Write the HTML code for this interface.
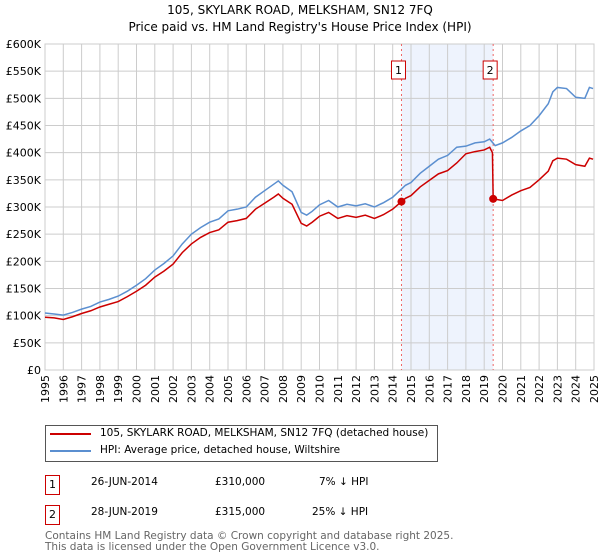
<!DOCTYPE html>
<html><head><meta charset="utf-8"><style>
body{margin:0;background:#fff;font-family:"DejaVu Sans","Liberation Sans",sans-serif;}
#wrap{position:relative;width:600px;height:560px;overflow:hidden}
.t{position:absolute;white-space:nowrap;font-size:10.5px;color:#000}
.box{position:absolute;border:1px solid #c00;width:13px;height:18px;font-size:11px;text-align:center;line-height:18px}
</style></head><body><div id="wrap">
<svg id="svg" width="600" height="420" style="position:absolute;left:0;top:0"></svg>
<div style="position:absolute;left:45px;top:425px;width:391px;height:35px;border:1px solid #555"></div>
<div style="position:absolute;left:50px;top:433px;width:41px;height:2px;background:#c00"></div>
<div class="t" style="left:100px;top:427px">105, SKYLARK ROAD, MELKSHAM, SN12 7FQ (detached house)</div>
<div style="position:absolute;left:50px;top:450px;width:41px;height:2px;background:#5b8fd0"></div>
<div class="t" style="left:100px;top:444px">HPI: Average price, detached house, Wiltshire</div>
<div class="box" style="left:45px;top:475px">1</div>
<div class="t" style="left:91px;top:476px">26-JUN-2014</div>
<div class="t" style="left:215px;top:476px">£310,000</div>
<div class="t" style="left:319px;top:476px">7% ↓ HPI</div>
<div class="box" style="left:45px;top:505px">2</div>
<div class="t" style="left:91px;top:506px">28-JUN-2019</div>
<div class="t" style="left:215px;top:506px">£315,000</div>
<div class="t" style="left:312px;top:506px">25% ↓ HPI</div>
<div class="t" style="left:45px;top:531px;color:#666;line-height:11px">Contains HM Land Registry data © Crown copyright and database right 2025.<br>This data is licensed under the Open Government Licence v3.0.</div>
</div>
<script>
const hpiX=[1995,1995.5,1996,1996.5,1997,1997.5,1998,1998.5,1999,1999.5,2000,2000.5,2001,2001.5,2002,2002.5,2003,2003.5,2004,2004.5,2005,2005.5,2006,2006.5,2007,2007.5,2007.75,2008,2008.5,2009,2009.3,2009.6,2010,2010.5,2011,2011.5,2012,2012.5,2013,2013.5,2014,2014.48,2014.7,2015,2015.5,2016,2016.5,2017,2017.5,2018,2018.5,2019,2019.3,2019.6,2020,2020.5,2021,2021.5,2022,2022.5,2022.75,2023,2023.5,2024,2024.5,2024.75,2024.95];
const hpiY=[105,103,101,106,112,117,125,130,136,145,156,168,184,196,210,232,250,262,272,278,293,296,300,318,330,342,348,340,328,290,285,292,304,312,300,305,302,306,300,308,318,333,340,345,362,375,388,395,410,412,418,420,425,413,418,428,440,450,468,490,512,520,518,502,500,520,518];
const redX=[1995,1995.5,1996,1996.5,1997,1997.5,1998,1998.5,1999,1999.5,2000,2000.5,2001,2001.5,2002,2002.5,2003,2003.5,2004,2004.5,2005,2005.5,2006,2006.5,2007,2007.5,2007.75,2008,2008.5,2009,2009.3,2009.6,2010,2010.5,2011,2011.5,2012,2012.5,2013,2013.5,2014,2014.48,2014.7,2015,2015.5,2016,2016.5,2017,2017.5,2018,2018.5,2019,2019.3,2019.45,2019.49,2020,2020.5,2021,2021.5,2022,2022.5,2022.75,2023,2023.5,2024,2024.5,2024.75,2024.95];
const redY=[97,96,93,98,104,109,116,121,126,135,145,156,171,182,195,216,232,244,253,258,272,275,279,296,307,318,324,316,305,270,265,272,283,290,279,284,281,285,279,286,296,310,316,321,337,349,361,367,381,398,402,405,410,400,315,312,322,330,336,350,366,385,390,388,378,375,390,388];
const saleX=[2014.48,2019.49];
const saleY=[310,315];
const saleLabels=["1","2"];
const yTicks=[0,50,100,150,200,250,300,350,400,450,500,550,600];
const xTicks=[1995,1996,1997,1998,1999,2000,2001,2002,2003,2004,2005,2006,2007,2008,2009,2010,2011,2012,2013,2014,2015,2016,2017,2018,2019,2020,2021,2022,2023,2024,2025];
const L=45,R=594,T=44,B=370;
const sx=v=>L+(v-1995)/30*(R-L);
const sy=v=>B-v/600*(B-T);
const svg=document.getElementById('svg');const NS='http://www.w3.org/2000/svg';
function mk(tag,attrs,name){const e=document.createElementNS(NS,tag);for(const k in attrs)e.setAttribute(k,attrs[k]);


svg.appendChild(e);return e;}
mk('rect',{x:sx(saleX[0]),y:T,width:sx(saleX[1])-sx(saleX[0]),height:B-T,fill:'#eef3fd'},'sale-period-shade');
yTicks.forEach(v=>{mk('line',{x1:L,x2:R,y1:sy(v),y2:sy(v),stroke:'#ccc','stroke-width':1},'y-grid-line');
const t=mk('text',{x:L-4,y:sy(v)+4,'text-anchor':'end','font-size':11,'font-family':'DejaVu Sans, sans-serif'},'y-tick-label');t.textContent='£'+(v?v+'K':'0');});
xTicks.forEach(v=>{mk('line',{x1:sx(v),x2:sx(v),y1:T,y2:B,stroke:'#ccc','stroke-width':1},'x-grid-line');
const t=mk('text',{x:0,y:0,'text-anchor':'end','font-size':11,'font-family':'DejaVu Sans, sans-serif',transform:`translate(${sx(v)+4},${B+5}) rotate(-90)`},'x-tick-label');t.textContent=v;});
mk('rect',{x:L,y:T,width:R-L,height:B-T,fill:'none',stroke:'#ccc'},'plot-border');
saleX.forEach((v,i)=>{mk('line',{x1:sx(v),x2:sx(v),y1:T,y2:B,stroke:'#e66','stroke-dasharray':'2,3'},'sale-marker-line');
mk('rect',{x:sx(v)-10,y:61,width:14,height:18,fill:'#fff',stroke:'#c00'},'sale-label-box');
const t=mk('text',{x:sx(v)-3,y:74,'text-anchor':'middle','font-size':11,'font-family':'DejaVu Sans, sans-serif'},'sale-label');t.textContent=saleLabels[i];});
mk('polyline',{points:hpiX.map((x,i)=>sx(x)+','+sy(hpiY[i])).join(' '),fill:'none',stroke:'#5b8fd0','stroke-width':1.5},'hpi-line');
mk('polyline',{points:redX.map((x,i)=>sx(x)+','+sy(redY[i])).join(' '),fill:'none',stroke:'#c00','stroke-width':1.5},'price-line');
saleX.forEach((v,i)=>mk('circle',{cx:sx(v),cy:sy(saleY[i]),r:4,fill:'#c00'},'sale-point'));
const t1=mk('text',{x:300,y:14,'text-anchor':'middle','font-size':12,'font-family':'DejaVu Sans, sans-serif'},'chart-title');t1.textContent='105, SKYLARK ROAD, MELKSHAM, SN12 7FQ';
const t2=mk('text',{x:300,y:31,'text-anchor':'middle','font-size':12,'font-family':'DejaVu Sans, sans-serif'},'chart-subtitle');t2.textContent="Price paid vs. HM Land Registry's House Price Index (HPI)";
</script></body></html>
